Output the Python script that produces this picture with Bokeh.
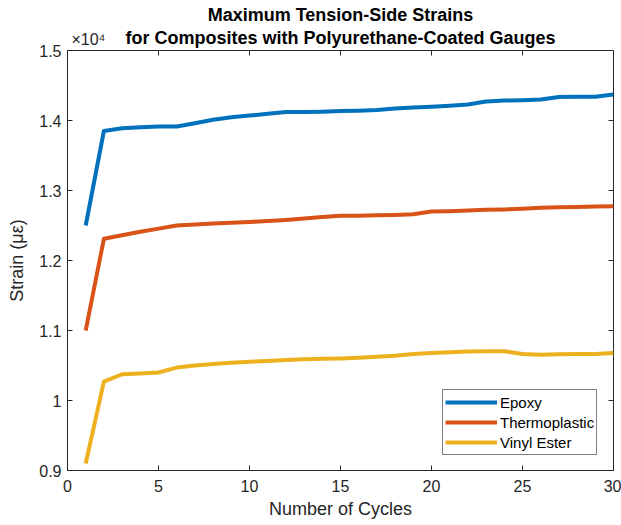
import math
from bokeh.plotting import figure
from bokeh.models import (Range1d, FixedTicker, LinearAxis, Title, Legend, LegendItem)
from bokeh.embed import file_html
from bokeh.resources import INLINE

# ---- data ----
cycles = list(range(1, 31))
epoxy = [12500, 13850, 13890, 13905, 13915, 13915, 13960, 14010, 14045, 14070,
         14095, 14120, 14120, 14125, 14135, 14140, 14150, 14170, 14185, 14195,
         14210, 14230, 14270, 14285, 14290, 14300, 14335, 14340, 14340, 14370]
thermoplastic = [11000, 12310, 12360, 12410, 12455, 12500, 12515, 12530, 12540, 12550,
                 12565, 12580, 12600, 12620, 12640, 12640, 12645, 12650, 12660, 12700,
                 12705, 12715, 12725, 12730, 12740, 12755, 12760, 12765, 12770, 12775]
vinyl_ester = [9100, 10270, 10375, 10385, 10400, 10470, 10500, 10520, 10540, 10555,
               10565, 10580, 10590, 10595, 10600, 10610, 10625, 10640, 10665, 10680,
               10690, 10700, 10705, 10705, 10665, 10655, 10660, 10665, 10665, 10680]
series_names = ["Epoxy", "Thermoplastic", "Vinyl Ester"]
series_colors = ["#0072BD", "#D95319", "#EDB120"]
x_ticks = [0, 5, 10, 15, 20, 25, 30]
y_ticks = [9000, 10000, 11000, 12000, 13000, 14000, 15000]
y_tick_labels = ["0.9", "1", "1.1", "1.2", "1.3", "1.4", "1.5"]
exponent_text = "\u00d710\u2074"
exponent_pos = 1.15   # where the exponent note sits along the top edge
title_lines = ["Maximum Tension-Side Strains", "for Composites with Polyurethane-Coated Gauges"]

FONT = "Liberation Sans"
AX = "#262626"

p = figure(width=621, height=525, output_backend="svg", toolbar_location=None,
           x_range=Range1d(x_ticks[0], x_ticks[-1]), y_range=Range1d(y_ticks[0], y_ticks[-1]),
           min_border_left=67, min_border_right=8, min_border_top=50, min_border_bottom=55)
p.background_fill_color = "white"
p.border_fill_color = "white"
p.grid.visible = False
p.outline_line_color = AX
p.outline_line_width = 1

for ax in (p.xaxis[0], p.yaxis[0]):
    ax.major_tick_in = 5
    ax.major_tick_out = 0
    ax.minor_tick_line_color = None
    ax.axis_line_color = AX
    ax.major_tick_line_color = AX
    ax.major_label_text_color = AX
    ax.major_label_text_font = FONT
    ax.major_label_text_font_size = "16px"
    ax.axis_label_text_font = FONT
    ax.axis_label_text_font_size = "18px"
    ax.axis_label_text_font_style = "normal"
    ax.axis_label_text_color = AX

p.xaxis[0].ticker = FixedTicker(ticks=x_ticks)
p.xaxis[0].axis_label = "Number of Cycles"
p.xaxis[0].major_label_standoff = 9
p.xaxis[0].axis_label_standoff = 4
p.yaxis[0].ticker = FixedTicker(ticks=y_ticks)
p.yaxis[0].major_label_overrides = {t: l for t, l in zip(y_ticks, y_tick_labels)}
p.yaxis[0].axis_label = "Strain (\u03bc\u03b5)"
p.yaxis[0].major_label_standoff = 6
p.yaxis[0].axis_label_standoff = 9

# top axis: exponent note + second title line
top_ax = LinearAxis(ticker=FixedTicker(ticks=[exponent_pos]),
                    major_label_overrides={exponent_pos: exponent_text},
                    major_tick_line_color=None, minor_tick_line_color=None,
                    axis_line_color=None, major_label_standoff=-3,
                    major_label_text_font=FONT, major_label_text_font_size="16px",
                    major_label_text_color=AX,
                    axis_label=title_lines[1], axis_label_text_font=FONT,
                    axis_label_text_font_size="18px", axis_label_text_font_style="bold",
                    axis_label_text_color="black", axis_label_standoff=-20)
p.add_layout(top_ax, "above")
p.add_layout(Title(text=title_lines[0], align="center", text_font=FONT, text_font_size="18px",
                   text_font_style="bold", text_color="black", standoff=0), "above")

# mirror ticks on right and top edges
p.ray(x=[x_ticks[-1]] * len(y_ticks), y=y_ticks, length=5, length_units="screen",
      angle=math.pi, line_color=AX, line_width=1)
p.ray(x=x_ticks, y=[y_ticks[-1]] * len(x_ticks), length=5, length_units="screen",
      angle=-math.pi / 2, line_color=AX, line_width=1)

renderers = []
for ys, c in zip([epoxy, thermoplastic, vinyl_ester], series_colors):
    r = p.line(cycles, ys, line_color=c, line_width=4, line_join="round")
    renderers.append(r)

legend = Legend(items=[LegendItem(label=n, renderers=[r]) for n, r in zip(series_names, renderers)],
                location=(375, 15), glyph_width=52, glyph_height=20, label_height=20,
                label_standoff=3, spacing=0, padding=2, margin=0,
                label_text_font=FONT, label_text_font_size="15px", label_text_color="black",
                border_line_color="black", border_line_width=1,
                background_fill_color="white", background_fill_alpha=1)
p.add_layout(legend, "center")

open("out.html", "w").write(file_html(p, INLINE))
